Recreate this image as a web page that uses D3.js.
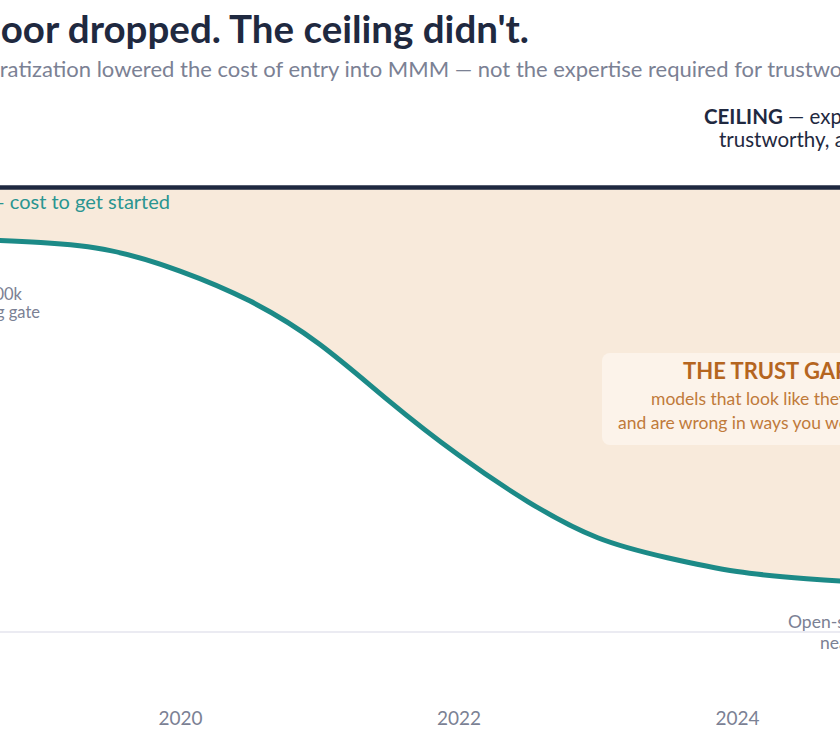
<!DOCTYPE html>
<html>
<head>
<meta charset="utf-8">
<script src="https://cdn.jsdelivr.net/npm/d3@7"></script>
<style>
  body { margin: 0; background: #fff; }
  svg { display: block; font-family: Lato, "Open Sans", sans-serif; }
</style>
</head>
<body>
<script>
// cost to get started (index, ceiling = 100)
const years = [2018, 2018.5, 2019, 2019.5, 2020, 2020.5, 2021, 2021.5, 2022, 2022.5, 2023, 2023.5, 2024, 2024.5, 2025, 2025.5, 2026];
const floorCost = [88.8, 88.3, 87.6, 85.8, 81.2, 74.5, 64.8, 52.0, 39.8, 29.3, 21.2, 16.7, 13.6, 12.0, 11.0, 10.6, 10.5];
const ceilingLevel = 100;
const tickYears = [2018, 2020, 2022, 2024, 2026];

const width = 840, height = 740;

const svg = d3.select('body').append('svg').attr('width', width).attr('height', height);

// the full chart is wider than the window, we only see the middle of it
const x = d3.scaleLinear().domain([2018, 2026]).range([-98.5, 1015.5]);
const y = d3.scaleLinear().domain([0, 100]).range([632, 187.5]);

const data = years.map((yr, i) => ({ year: yr, cost: floorCost[i] }));

// title + subtitle
svg.append('text')
  .attr('x', 529).attr('y', 43)
  .attr('text-anchor', 'end')
  .attr('font-size', 38.5).attr('font-weight', 700)
  .attr('fill', '#1f2940')
  .text("The floor dropped. The ceiling didn't.");

const subPrefix = 'Democratization ';
const tmp = svg.append('text').attr('font-size', 22).text(subPrefix);
const prefixW = tmp.node().getComputedTextLength();
tmp.remove();

svg.append('text')
  .attr('x', 91 - prefixW).attr('y', 77)
  .attr('font-size', 22)
  .attr('fill', '#7b8194')
  .text(subPrefix + 'lowered the cost of entry into MMM \u2014 not the expertise required for trustworthy results.');

// the gap between floor and ceiling
const area = d3.area()
  .x(d => x(d.year))
  .y0(y(ceilingLevel))
  .y1(d => y(d.cost))
  .curve(d3.curveNatural);

svg.append('path')
  .datum(data)
  .attr('d', area)
  .attr('fill', '#f8eadb');

// baseline
svg.append('line')
  .attr('x1', x(2018)).attr('x2', x(2026))
  .attr('y1', y(0)).attr('y2', y(0))
  .attr('stroke', '#e4e4ee').attr('stroke-width', 1.5);

// ceiling
svg.append('line')
  .attr('x1', x(2018)).attr('x2', x(2026))
  .attr('y1', y(ceilingLevel)).attr('y2', y(ceilingLevel))
  .attr('stroke', '#1f2940').attr('stroke-width', 4.5);

// floor line
const line = d3.line()
  .x(d => x(d.year))
  .y(d => y(d.cost))
  .curve(d3.curveNatural);

svg.append('path')
  .datum(data)
  .attr('d', line)
  .attr('fill', 'none')
  .attr('stroke', '#1c8a87')
  .attr('stroke-width', 5);

// x axis
const xAxis = d3.axisBottom(x)
  .tickValues(tickYears)
  .tickFormat(d3.format('d'))
  .tickSize(0)
  .tickPadding(0);

const ax = svg.append('g')
  .attr('transform', 'translate(0,711)')
  .call(xAxis);
ax.select('.domain').remove();
ax.selectAll('text')
  .attr('font-family', 'Lato, sans-serif')
  .attr('font-size', 19)
  .attr('fill', '#7b8194');

// ceiling label
const ceil = svg.append('g').attr('font-size', 20.5).attr('fill', '#1f2940');
const c1 = ceil.append('text').attr('x', 704).attr('y', 124);
c1.append('tspan').attr('font-weight', 700).text('CEILING');
c1.append('tspan').text(' \u2014 expertise needed to make it');
ceil.append('text').attr('x', 719).attr('y', 147).text('trustworthy, actionable, and defensible');

// floor label
svg.append('text')
  .attr('x', 170).attr('y', 209)
  .attr('text-anchor', 'end')
  .attr('font-size', 20)
  .attr('fill', '#2a9591')
  .text('FLOOR \u2014 cost to get started');

// start annotation
const startNote = svg.append('g').attr('font-size', 16.5).attr('fill', '#7b8194').attr('text-anchor', 'end');
startNote.append('text').attr('x', 22).attr('y', 300).text('Agency build: ~$200k');
startNote.append('text').attr('x', 40).attr('y', 318).text('consulting gate');

// end annotation
const endNote = svg.append('g').attr('font-size', 17.5).attr('fill', '#7b8194');
endNote.append('text').attr('x', 788).attr('y', 628).text('Open-source tools:');
endNote.append('text').attr('x', 820).attr('y', 649).text('near zero');

// trust gap callout
const gap = svg.append('g');
gap.append('rect')
  .attr('x', 602).attr('y', 353)
  .attr('width', 330).attr('height', 92)
  .attr('rx', 8)
  .attr('fill', '#fcf3ea');
gap.append('text')
  .attr('x', 683).attr('y', 379)
  .attr('font-size', 22).attr('font-weight', 700)
  .attr('fill', '#b5651f')
  .text('THE TRUST GAP');
gap.append('text')
  .attr('x', 651).attr('y', 405)
  .attr('font-size', 17.5)
  .attr('fill', '#c07a3a')
  .text('models that look like they work');
gap.append('text')
  .attr('x', 618).attr('y', 429)
  .attr('font-size', 17.5)
  .attr('fill', '#c07a3a')
  .text("and are wrong in ways you won't notice");
</script>
</body>
</html>
